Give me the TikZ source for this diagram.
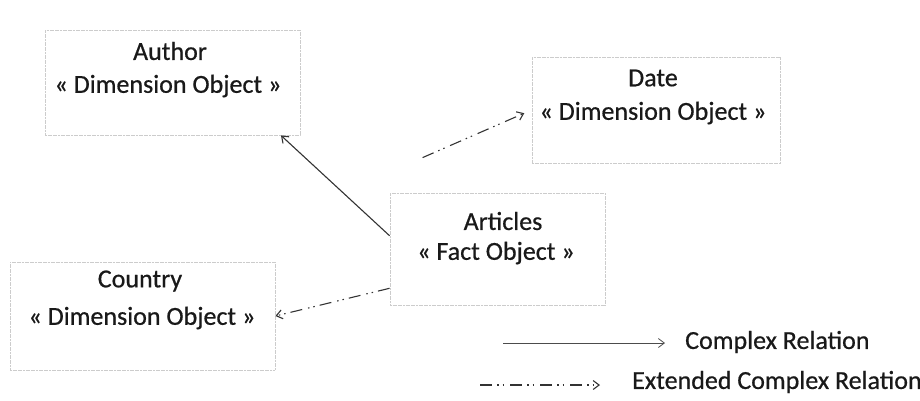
\documentclass[tikz,border=0pt]{standalone}
\usepackage{fontspec}
\setmainfont{Carlito}[FakeBold=0.6]
\usetikzlibrary{arrows.meta,calc}
\begin{document}
\begin{tikzpicture}[x=1pt,y=-1pt,
  obox/.style={draw=gray!40,line width=0.8pt,dash pattern=on 2pt off 0.6pt,fill=white,inner sep=0pt},
  lbl/.style={inner sep=0pt,text=black!90,font=\fontsize{26}{30}\selectfont},
  rel/.style={draw=black!80,line width=1.1pt,-{Straight Barb[length=6pt,width=9pt]}},
  extrel/.style={rel,dash pattern=on 12pt off 5pt on 1.5pt off 4pt on 1.5pt off 6pt}
]
\useasboundingbox (0,0) rectangle (920,400);
% boxes
\node[obox,minimum width=255pt,minimum height=105pt] (auth) at (172.5,82.5) {};
\node[obox,minimum width=248pt,minimum height=106pt] (date) at (656,110) {};
\node[obox,minimum width=215pt,minimum height=112pt] (art) at (497.5,249) {};
\node[obox,minimum width=265pt,minimum height=108pt] (ctry) at (142.5,316) {};
% texts
\node[lbl] (authT) at (170,51) {Author};
\node[lbl] (authS) at (168,86) {« Dimension Object »};
\node[lbl] (dateT) at (653,78) {Date};
\node[lbl] (dateS) at (653,113) {« Dimension Object »};
\node[lbl] (artT) at (503,221) {Articles};
\node[lbl] (artS) at (496,253) {« Fact Object »};
\node[lbl] (ctryT) at (140,281) {Country};
\node[lbl] (ctryS) at (142,318) {« Dimension Object »};
% connectors
\draw[rel] (art.173) -- (auth.-26);
\draw[extrel,shorten >=8pt] ($(art.north west)+(33,-35)$) -- (date.west);
\draw[extrel] (art.200) -- (ctry.east);
% legend
\coordinate (l1s) at (503,343);
\coordinate (l1e) at (665,343);
\coordinate (l2s) at (480,385);
\coordinate (l2e) at (600,385);
\draw[rel,line width=0.8pt,draw=black!70] (l1s) -- (l1e);
\draw[extrel] (l2s) -- (l2e);
\node[lbl,anchor=west] (leg1) at (685,342) {Complex Relation};
\node[lbl,anchor=west] (leg2) at (632,382) {Extended Complex Relation};
\end{tikzpicture}
\end{document}
